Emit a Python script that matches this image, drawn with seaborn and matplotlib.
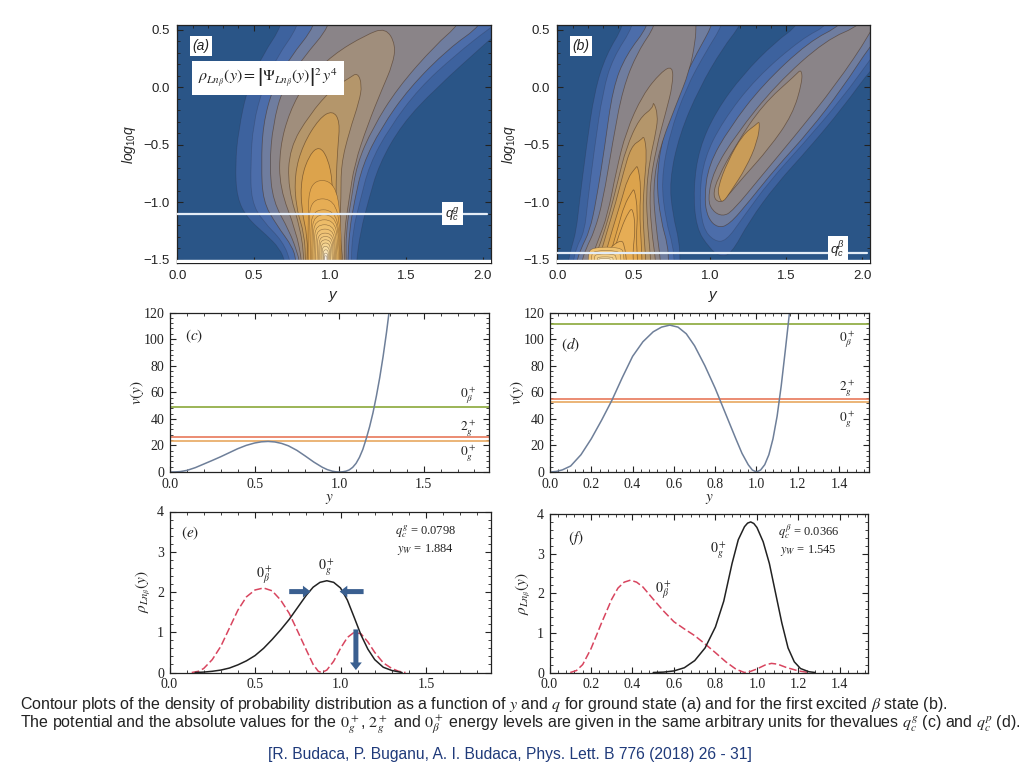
"""
Contour maps of rho(y, log10 q), potentials and densities, six panels.
Outputs: out.png
"""

import numpy as np
import matplotlib.pyplot as plt
import seaborn as sns
from matplotlib.patches import PathPatch
from matplotlib.path import Path
from matplotlib.ticker import MultipleLocator

# contour outlines panel (a), outermost first: y values then log10 q values
a_y = [
    [.69, .69, .56, .46, .40, .38, .39, .46, .58, .67, .71, .71, 1.17, 1.17, 1.20, 1.25, 1.32, 1.47, 1.69, 2.04, 2.12, 2.12],
    [.80, .80, .648, .561, .496, .48, .485, .561, .691, .746, .746, 1.137, 1.137, 1.148, 1.196, 1.257, 1.387, 1.583, 1.822, 2.043, 2.12, 2.12],
    [.91, .909, .735, .626, .561, .55, .561, .648, .76, .779, .779, 1.116, 1.116, 1.126, 1.159, 1.213, 1.333, 1.517, 1.778, 1.996, 2.03],
    [1.0, 1.007, .822, .691, .626, .604, .626, .735, .79, .80, .80, 1.105, 1.105, 1.104, 1.137, 1.174, 1.278, 1.441, 1.691, 1.843, 1.9],
    [1.235, 1.017, .843, .735, .67, .67, .778, .818, .818, 1.094, 1.094, 1.093, 1.126, 1.159, 1.246, 1.343, 1.409, 1.43, 1.365],
    [1.126, 1.017, .865, .735, .724, .811, .831, .831, 1.087, 1.087, 1.061, 1.072, 1.072, 1.126, 1.191, 1.209, 1.18],
    [.93, .822, .767, .778, .833, .84, .84, 1.083, 1.083, 1.028, 1.039, 1.039, 1.05, 1.065, 1.017],
    [.865, .811, .811, .854, .848, .848, 1.079, 1.079, 1.007, 1.017, 1.017, .985, .93],
]
a_q = [
    [.75, .545, .284, 0, -.38, -.67, -.96, -1.14, -1.28, -1.40, -1.53, -1.7, -1.7, -1.53, -1.25, -.99, -.67, -.32, -.01, .41, .5, .75],
    [.75, .545, .255, 0, -.325, -.672, -.991, -1.165, -1.339, -1.53, -1.7, -1.7, -1.53, -1.252, -.991, -.672, -.354, -.006, .284, .516, .58, .75],
    [.75, .545, .255, 0, -.325, -.672, -.991, -1.194, -1.397, -1.53, -1.7, -1.7, -1.53, -1.252, -.991, -.672, -.354, -.006, .342, .545, .75],
    [.75, .545, .255, 0, -.325, -.672, -.991, -1.252, -1.455, -1.53, -1.7, -1.7, -1.53, -1.252, -.991, -.672, -.354, -.006, .371, .545, .75],
    [.458, .284, .052, -.209, -.528, -.875, -1.252, -1.53, -1.7, -1.7, -1.53, -1.252, -.962, -.672, -.325, -.006, .197, .37, .52],
    [.081, -.006, -.238, -.528, -.875, -1.252, -1.53, -1.7, -1.7, -1.53, -1.252, -.962, -.672, -.383, -.122, .023, .13],
    [-.267, -.499, -.759, -1.049, -1.281, -1.53, -1.7, -1.7, -1.53, -1.31, -1.107, -.817, -.528, -.296, -.20],
    [-.586, -.788, -1.049, -1.31, -1.53, -1.7, -1.7, -1.53, -1.339, -1.107, -.817, -.614, -.51],
]

# the narrow rings at the foot of the ridge in (a): top of ring and its width at the base
a_ring_q = [-.81, -.97, -1.065, -1.108, -1.152, -1.195, -1.233, -1.268, -1.297, -1.326, -1.354, -1.383, -1.413, -1.442, -1.465]
a_ring_top = [.90, .905, .92, .93, .94, .945, .95, .955, .96, .96, .965, .965, .97, .97, .97]
a_ring_left = [.855, .861, .872, .88, .887, .895, .905, .915, .925, .932, .94, .947, .955, .96, .965]
a_ring_right = [1.074, 1.07, 1.065, 1.06, 1.053, 1.045, 1.037, 1.03, 1.022, 1.015, 1.005, .998, .99, .985, .98]

# contour outlines panel (b), first ridge
b_y = [
    [.44, .44, .32, .244, .19, .146, .124, .092, .07, .07, .805, .805, .80, .757, .735, .80, .931, 1.084, 1.204, 1.25],
    [.506, .506, .364, .299, .244, .2, .179, .124, .103, .103, .768, .768, .757, .713, .68, .735, .844, .975, 1.084, 1.12],
    [.604, .604, .451, .364, .31, .255, .212, .157, .124, .124, .73, .73, .724, .68, .648, .691, .80, .92, 1.019, 1.05],
    [.648, .648, .528, .43, .364, .299, .244, .19, .157, .157, .68, .68, .648, .626, .67, .779, .866, .905, .91, .91],
    [.68, .56, .451, .386, .331, .266, .212, .212, .648, .648, .615, .604, .648, .713, .757, .757],
    [.626, .539, .451, .397, .342, .288, .233, .233, .615, .615, .593, .582, .604, .648, .66, .63],
    [.55, .484, .43, .386, .32, .266, .266, .582, .582, .571, .56, .571, .587, .571],
    [.513, .462, .419, .364, .299, .299, .556, .556, .55, .539, .55, .528],
    [.491, .44, .397, .331, .331, .528, .528, .517, .528, .506],
    [.469, .419, .364, .342, .342, .50, .50, .495, .513, .495],
    [.419, .342, .277, .277, .456, .456, .44],
]
b_q = [
    [.75, .545, .284, -.035, -.528, -.991, -1.252, -1.397, -1.528, -1.7, -1.7, -1.528, -1.339, -1.107, -.817, -.412, -.006, .342, .545, .75],
    [.75, .545, .255, -.035, -.528, -.991, -1.252, -1.397, -1.528, -1.7, -1.7, -1.528, -1.368, -1.165, -.817, -.412, -.006, .313, .545, .75],
    [.75, .545, .284, -.006, -.528, -.991, -1.252, -1.397, -1.528, -1.7, -1.7, -1.528, -1.368, -1.165, -.817, -.412, -.006, .313, .545, .75],
    [.75, .545, .313, -.006, -.47, -.991, -1.252, -1.397, -1.528, -1.7, -1.7, -1.528, -1.223, -.875, -.528, -.151, .139, .40, .545, .75],
    [.133, -.064, -.383, -.73, -1.107, -1.339, -1.528, -1.7, -1.7, -1.528, -1.223, -.875, -.528, -.209, .023, .19],
    [-.18, -.267, -.528, -.817, -1.107, -1.339, -1.528, -1.7, -1.7, -1.528, -1.223, -.933, -.643, -.383, -.238, -.12],
    [-.455, -.513, -.759, -.991, -1.281, -1.528, -1.7, -1.7, -1.528, -1.339, -1.078, -.817, -.586, -.42],
    [-.70, -.788, -.991, -1.223, -1.528, -1.7, -1.7, -1.528, -1.339, -1.078, -.875, -.68],
    [-.904, -1.02, -1.223, -1.528, -1.7, -1.7, -1.528, -1.31, -1.078, -.88],
    [-1.078, -1.223, -1.455, -1.528, -1.7, -1.7, -1.528, -1.426, -1.223, -1.05],
    [-1.325, -1.397, -1.528, -1.7, -1.7, -1.528, -1.37],
]
b_ring_q = [-1.39, -1.42, -1.45, -1.475, -1.49]
b_ring_top = [.33, .32, .31, .31, .31]
b_ring_left = [.20, .22, .24, .26, .27]
b_ring_right = [.44, .42, .39, .37, .35]
b_ring_band = [14, 16, 18, 20, 22]

# contour outlines panel (b), second ridge
r_y = [
    [1.6, 1.586, 1.433, 1.215, 1.04, .931, .892, .91, .997, 1.062, 1.138, 1.258, 1.433, 1.651, 1.869, 2.065, 2.2, 2.2],
    [1.8, 1.782, 1.607, 1.302, 1.084, .964, .931, .953, 1.029, 1.106, 1.215, 1.39, 1.607, 1.869, 2.065, 2.2, 2.2],
    [1.95, 1.869, 1.651, 1.346, 1.128, .992, .964, .986, 1.051, 1.128, 1.258, 1.433, 1.651, 1.869, 2.055, 2.2, 2.2],
    [2.05, 2.0, 1.76, 1.433, 1.171, 1.023, .986, 1.019, 1.084, 1.149, 1.346, 1.564, 1.826, 2.055, 2.15],
    [1.564, 1.346, 1.171, 1.051, 1.019, 1.062, 1.106, 1.215, 1.39, 1.542, 1.607, 1.60],
    [1.302, 1.215, 1.117, 1.051, 1.062, 1.084, 1.138, 1.237, 1.313, 1.33],
]
r_q = [
    [.75, .545, .40, .11, -.209, -.528, -.875, -1.223, -1.397, -1.47, -1.455, -1.165, -.846, -.528, -.18, .174, .35, .75],
    [.75, .545, .429, .081, -.296, -.614, -.933, -1.223, -1.339, -1.339, -1.136, -.817, -.499, -.093, .27, .5, .75],
    [.75, .545, .40, .023, -.354, -.672, -.962, -1.136, -1.223, -1.194, -.991, -.701, -.383, -.006, .371, .6, .75],
    [.75, .545, .414, .023, -.412, -.73, -.977, -1.078, -1.122, -1.078, -.759, -.412, .023, .472, .75],
    [.11, -.151, -.499, -.788, -.948, -1.006, -.962, -.788, -.528, -.238, .052, .16],
    [-.325, -.412, -.643, -.875, -.962, -1.006, -.904, -.701, -.47, -.29],
]
r_band = [1, 2, 3, 4, 5, 7]

# horizontal q_c lines in the maps
qc_a = -1.1
qc_b = -1.445

# potentials
y_c = [0, .03, .06, .1, .15, .2, .25, .3, .35, .4, .45, .5, .54, .58, .62, .66, .7, .75, .8, .85, .9, .93, .96, .98, 1.0,
       1.02, 1.04, 1.06, 1.08, 1.1, 1.12, 1.14, 1.16, 1.18, 1.2, 1.22, 1.24, 1.26, 1.28, 1.295]
v_c = [0, .05, .3, 1.2, 3.3, 6, 8.7, 11.5, 14.5, 17.5, 20, 21.8, 22.7, 23, 22.6, 21.5, 19.7, 16.3, 12, 7.5, 3.6, 1.8, .6, .15, 0,
       .15, .6, 1.6, 3.5, 6.5, 11, 17, 25, 34, 44.5, 57, 71, 87, 105, 120]
y_d = [0, .03, .06, .1, .15, .2, .25, .3, .35, .4, .45, .5, .54, .58, .62, .66, .7, .75, .8, .85, .9, .93, .96, .98, 1.0,
       1.02, 1.04, 1.06, 1.08, 1.1, 1.12, 1.14, 1.16]
v_d = [0, .4, 1.6, 4.5, 13, 25, 39, 54, 71, 87, 98, 105.5, 109, 110.5, 109, 104, 95, 80, 63, 44, 25, 14, 5.5, 1.5, 0,
       1.5, 5.5, 13, 25, 42, 65, 92, 120]
levels_c = [49, 26.5, 23.2]
levels_d = [111, 55, 53]

# densities
y_e = [.15, .2, .25, .3, .35, .4, .45, .5, .55, .6, .65, .7, .75, .8, .84, .88, .92, .96, 1.0, 1.04, 1.08, 1.12, 1.16, 1.2, 1.25, 1.3, 1.36]
g_e = [0, .01, .03, .06, .11, .19, .29, .42, .6, .82, 1.06, 1.32, 1.62, 1.92, 2.12, 2.24, 2.28, 2.24, 2.1, 1.8, 1.37, .93, .58, .32, .13, .05, 0]
yb_e = [.13, .17, .2, .25, .3, .35, .4, .45, .5, .55, .6, .65, .7, .75, .8, .84, .87, .89, .92, .96, 1.0, 1.04, 1.08, 1.12, 1.16, 1.2, 1.25, 1.3, 1.34, 1.38]
b_e = [0, .03, .1, .32, .65, 1.1, 1.55, 1.88, 2.05, 2.1, 2.03, 1.8, 1.47, 1.02, .56, .2, .03, 0, .06, .28, .6, .87, 1.0, .96, .76, .5, .24, .1, .03, 0]
y_f = [.5, .55, .6, .65, .7, .75, .8, .84, .88, .91, .94, .955, .97, .985, 1.0, 1.03, 1.06, 1.09, 1.12, 1.15, 1.18, 1.21, 1.25, 1.28]
g_f = [0, .01, .04, .12, .3, .62, 1.15, 1.8, 2.75, 3.35, 3.68, 3.77, 3.8, 3.76, 3.66, 3.3, 2.75, 2.0, 1.25, .62, .27, .1, .02, 0]
yb_f = [.1, .13, .16, .2, .25, .3, .33, .36, .39, .42, .45, .5, .55, .6, .65, .7, .75, .8, .85, .9, .94, .97, 1.0, 1.04, 1.07, 1.1, 1.14, 1.2, 1.25]
b_f = [0, .05, .2, .6, 1.24, 1.85, 2.13, 2.28, 2.33, 2.28, 2.16, 1.85, 1.55, 1.28, 1.1, .93, .72, .5, .27, .08, 0, .03, .09, .19, .23, .21, .13, .04, 0]

level_names = [r"$0_\beta^+$", r"$2_g^+$", r"$0_g^+$"]

# colours of the contour bands, dark background first
band_anchors = ["#2a5587", "#3d629e", "#4c6daa", "#6f7d9f", "#8a8488", "#a08e7c", "#b4966b",
                "#c99c58", "#dca34c", "#e3a84f", "#e6ad55", "#e9b25b", "#ebb761", "#edbc68",
                "#eec06e", "#efc274", "#f0c57a", "#f2ca80", "#f3cf88", "#f5d592", "#f7dca0",
                "#fae6b8", "#fcf0d4", "#fffaf0"]
level_colors = ["#8aa83a", "#e8785a", "#e8a860"]
curve_grey = "#6e7f99"
dash_red = "#d8455f"
arrow_blue = "#3a5f90"

W, H = 1024, 768

sns.set_theme(style="ticks")
plt.rcParams["font.family"] = ["Liberation Sans", "DejaVu Sans"]
plt.rcParams["mathtext.fontset"] = "custom"
plt.rcParams["mathtext.rm"] = "Liberation Sans"
plt.rcParams["mathtext.it"] = "Liberation Sans:italic"
plt.rcParams["mathtext.bf"] = "Liberation Sans:bold"
plt.rcParams["axes.linewidth"] = 0.9
plt.rcParams["axes.edgecolor"] = "#222222"
plt.rcParams["text.color"] = "#222222"

SERIF = ["Liberation Serif", "DejaVu Serif"]
fig = plt.figure(figsize=(W / 100, H / 100), dpi=100, facecolor="white")


def add_panel(left, top, right, bottom):
    return fig.add_axes([left / W, 1 - bottom / H, (right - left) / W, (bottom - top) / H])


def draw_band(ax, xs, ys, color, band, lw=0.55):
    # quadratic curves through the edge midpoints so the outline is not faceted
    pts = np.column_stack([xs, ys])
    mids = (pts + np.roll(pts, -1, axis=0)) / 2
    verts, codes = [mids[-1]], [Path.MOVETO]
    for p, m in zip(pts, mids):
        verts += [p, m]
        codes += [Path.CURVE3, Path.CURVE3]
    edge = (0.15, 0.15, 0.2, 0.25) if band < 3 else (0.28, 0.18, 0.1, 0.55)
    ax.add_patch(PathPatch(Path(verts, codes), facecolor=color, edgecolor=edge, lw=lw))


def draw_ring(ax, q_top, y_top, left, right, band):
    q_mid = (q_top - 1.5) / 2
    xs = [left, left, y_top - 0.75 * (y_top - left), y_top + 0.75 * (right - y_top), right, right]
    ys = [-1.75, q_mid, q_top, q_top, q_mid, -1.75]
    draw_band(ax, xs, ys, band_anchors[band], band, lw=0.4)


def style_map(ax, qc, tag, qc_tag, qc_x, qc_y):
    ax.axhspan(-1.6, -1.5, color="white", zorder=3)
    ax.axhline(qc, xmax=0.99, color="#e4ecf6", lw=1.6, zorder=4)
    ax.set_xlim(-0.005, 2.05)
    ax.set_ylim(-1.528, 0.543)
    ax.xaxis.set_major_locator(MultipleLocator(0.5))
    ax.xaxis.set_minor_locator(MultipleLocator(0.1))
    ax.yaxis.set_major_locator(MultipleLocator(0.5))
    ax.yaxis.set_minor_locator(MultipleLocator(0.1))
    ax.tick_params(which="both", direction="in", top=True, right=True, colors="#222222", zorder=6)
    ax.tick_params(which="major", length=4, width=0.8, labelsize=9.5, pad=5)
    ax.tick_params(which="minor", length=2, width=0.6)
    ax.set_xlabel(r"$y$", fontsize=11, labelpad=5)
    ax.set_ylabel(r"$log_{10}q$", fontsize=10, labelpad=4)
    box = dict(facecolor="white", edgecolor="none", pad=2)
    ax.text(0.1, 0.36, tag, fontsize=10, style="italic", bbox=box, va="center", zorder=5)
    ax.text(qc_x, qc_y, qc_tag, fontsize=9.5, bbox=box, ha="center", va="center", zorder=5)


def style_line_axis(ax, xmax, ymax, major, ystep):
    ax.set_xlim(0, xmax)
    ax.set_ylim(0, ymax)
    ax.xaxis.set_major_locator(MultipleLocator(major))
    ax.xaxis.set_minor_locator(MultipleLocator(major / 5))
    ax.yaxis.set_major_locator(MultipleLocator(ystep))
    ax.yaxis.set_minor_locator(MultipleLocator(ystep / 5))
    ax.tick_params(which="both", direction="in", top=True, right=True, colors="#222222")
    ax.tick_params(which="major", length=4, width=0.8, labelsize=10)
    ax.tick_params(axis="x", which="major", pad=4)
    ax.tick_params(axis="y", which="major", pad=4)
    ax.tick_params(which="minor", length=2, width=0.6)
    for lab in ax.get_xticklabels() + ax.get_yticklabels():
        lab.set_family(SERIF)


def serif_text(ax, x, y, s, size=10, **kw):
    ax.text(x, y, s, fontsize=size, family=SERIF, math_fontfamily="stix",
            ha="center", va="center", **kw)


# (a) ground state map
ax_a = add_panel(176.5, 25, 490.5, 263)
ax_a.set_facecolor(band_anchors[0])
for i, (xs, ys) in enumerate(zip(a_y, a_q)):
    draw_band(ax_a, xs, ys, band_anchors[i + 1], i + 1)
for j, (q, top, l, r) in enumerate(zip(a_ring_q, a_ring_top, a_ring_left, a_ring_right)):
    draw_ring(ax_a, q, top, l, r, j + 9)
style_map(ax_a, qc_a, "(a)", r"$q_c^g$", 1.8, -1.1)
ax_a.text(0.135, 0.08, r"$\rho_{Ln_\beta}(y) = \left|\Psi_{Ln_\beta}(y)\right|^2\, y^4$",
          fontsize=11.5, math_fontfamily="stix", va="center", zorder=5,
          bbox=dict(facecolor="white", edgecolor="none", pad=4))

# (b) excited state map
ax_b = add_panel(556.5, 25, 870, 263)
ax_b.set_facecolor(band_anchors[0])
for i, (xs, ys) in enumerate(zip(b_y, b_q)):
    draw_band(ax_b, xs, ys, band_anchors[i + 1], i + 1)
for q, top, l, r, k in zip(b_ring_q, b_ring_top, b_ring_left, b_ring_right, b_ring_band):
    draw_ring(ax_b, q, top, l, r, k)
for xs, ys, k in zip(r_y, r_q, r_band):
    draw_band(ax_b, xs, ys, band_anchors[k], k)
style_map(ax_b, qc_b, "(b)", r"$q_c^\beta$", 1.84, -1.41)

# (c) and (d) potentials with levels
ax_c = add_panel(170, 312.5, 489, 472)
ax_d = add_panel(550, 312.5, 869, 472)
panels = [
    (ax_c, y_c, v_c, levels_c, 1.886, 0.5, "(c)", 0.14, 102, 1.76, [57, 33, 14]),
    (ax_d, y_d, v_d, levels_d, 1.545, 0.2, "(d)", 0.1, 95.5, 1.44, [99, 63, 40]),
]
for ax, xs, vs, levels, xmax, major, tag, tx, ty, lx, label_y in panels:
    for lev, col in zip(levels, level_colors):
        ax.axhline(lev, color=col, lw=1.2)
    sns.lineplot(x=xs, y=vs, ax=ax, color=curve_grey, lw=1.1, estimator=None, sort=False)
    style_line_axis(ax, xmax, 120, major, 20)
    ax.set_xlabel(r"$y$", fontsize=11, math_fontfamily="stix", labelpad=1)
    ax.set_ylabel(r"$v(y)$", fontsize=11, math_fontfamily="stix", labelpad=-2)
    serif_text(ax, tx, ty, r"$(%s)$" % tag[1], size=11)
    for name, ly in zip(level_names, label_y):
        serif_text(ax, lx, ly, name, size=9.5)

# (e) and (f) densities
ax_e = add_panel(169.5, 511.5, 491, 672.5)
ax_f = add_panel(549.5, 514, 867.5, 672.5)
panels = [
    (ax_e, y_e, g_e, yb_e, b_e, 1.88, 0.5),
    (ax_f, y_f, g_f, yb_f, b_f, 1.533, 0.2),
]
for ax, xs, gs, xb, bs, xmax, major in panels:
    sns.lineplot(x=xb, y=bs, ax=ax, color=dash_red, lw=1.1, linestyle=(0, (5, 2)), estimator=None, sort=False)
    sns.lineplot(x=xs, y=gs, ax=ax, color="#222222", lw=1.1, estimator=None, sort=False)
    style_line_axis(ax, xmax, 4, major, 1)
    ax.set_xlabel("")
    ax.set_ylabel(r"$\rho_{Ln_\beta}(y)$", fontsize=11, math_fontfamily="stix", labelpad=3)

serif_text(ax_e, 0.12, 3.46, r"$(e)$", size=11)
serif_text(ax_e, 0.555, 2.4, r"$0_\beta^+$")
serif_text(ax_e, 0.92, 2.63, r"$0_g^+$")
serif_text(ax_e, 1.495, 3.5, r"$q_c^g$ = 0.0798", size=9)
serif_text(ax_e, 1.495, 3.06, r"$y_W$ = 1.884", size=9)
for start, end in [((0.70, 2.01), (0.825, 2.01)), ((1.135, 2.01), (0.995, 2.01)), ((1.09, 1.07), (1.09, 0.06))]:
    ax_e.annotate("", xy=end, xytext=start,
                  arrowprops=dict(facecolor=arrow_blue, edgecolor=arrow_blue, width=3.6, headwidth=8.5,
                                  headlength=5.5, shrink=0, lw=0))

serif_text(ax_f, 0.125, 3.4, r"$(f)$", size=11)
serif_text(ax_f, 0.815, 3.1, r"$0_g^+$")
serif_text(ax_f, 0.55, 2.08, r"$0_\beta^+$")
serif_text(ax_f, 1.25, 3.55, r"$q_c^\beta$ = 0.0366", size=9)
serif_text(ax_f, 1.25, 3.07, r"$y_W$ = 1.545", size=9)

# caption below the panels
fig.text(20 / W, 1 - 704 / H,
         r"Contour plots of the density of probability distribution as a function of $y$ and $q$ for ground state (a) and for the first excited $\beta$ state (b).",
         fontsize=11.55, math_fontfamily="stix", va="center", color="#222222")
fig.text(20 / W, 1 - 725 / H,
         r"The potential and the absolute values for the $0_g^+$, $2_g^+$ and $0_\beta^+$ energy levels are given in the same arbitrary units for thevalues $q_c^g$ (c) and $q_c^p$ (d).",
         fontsize=11.55, math_fontfamily="stix", va="center", color="#222222")
fig.text(510 / W, 1 - 754 / H, "[R. Budaca, P. Buganu, A. I. Budaca, Phys. Lett. B 776 (2018) 26 - 31]",
         fontsize=11.25, ha="center", va="center", color="#1f3a7a")

fig.savefig("out.png", dpi=100)
